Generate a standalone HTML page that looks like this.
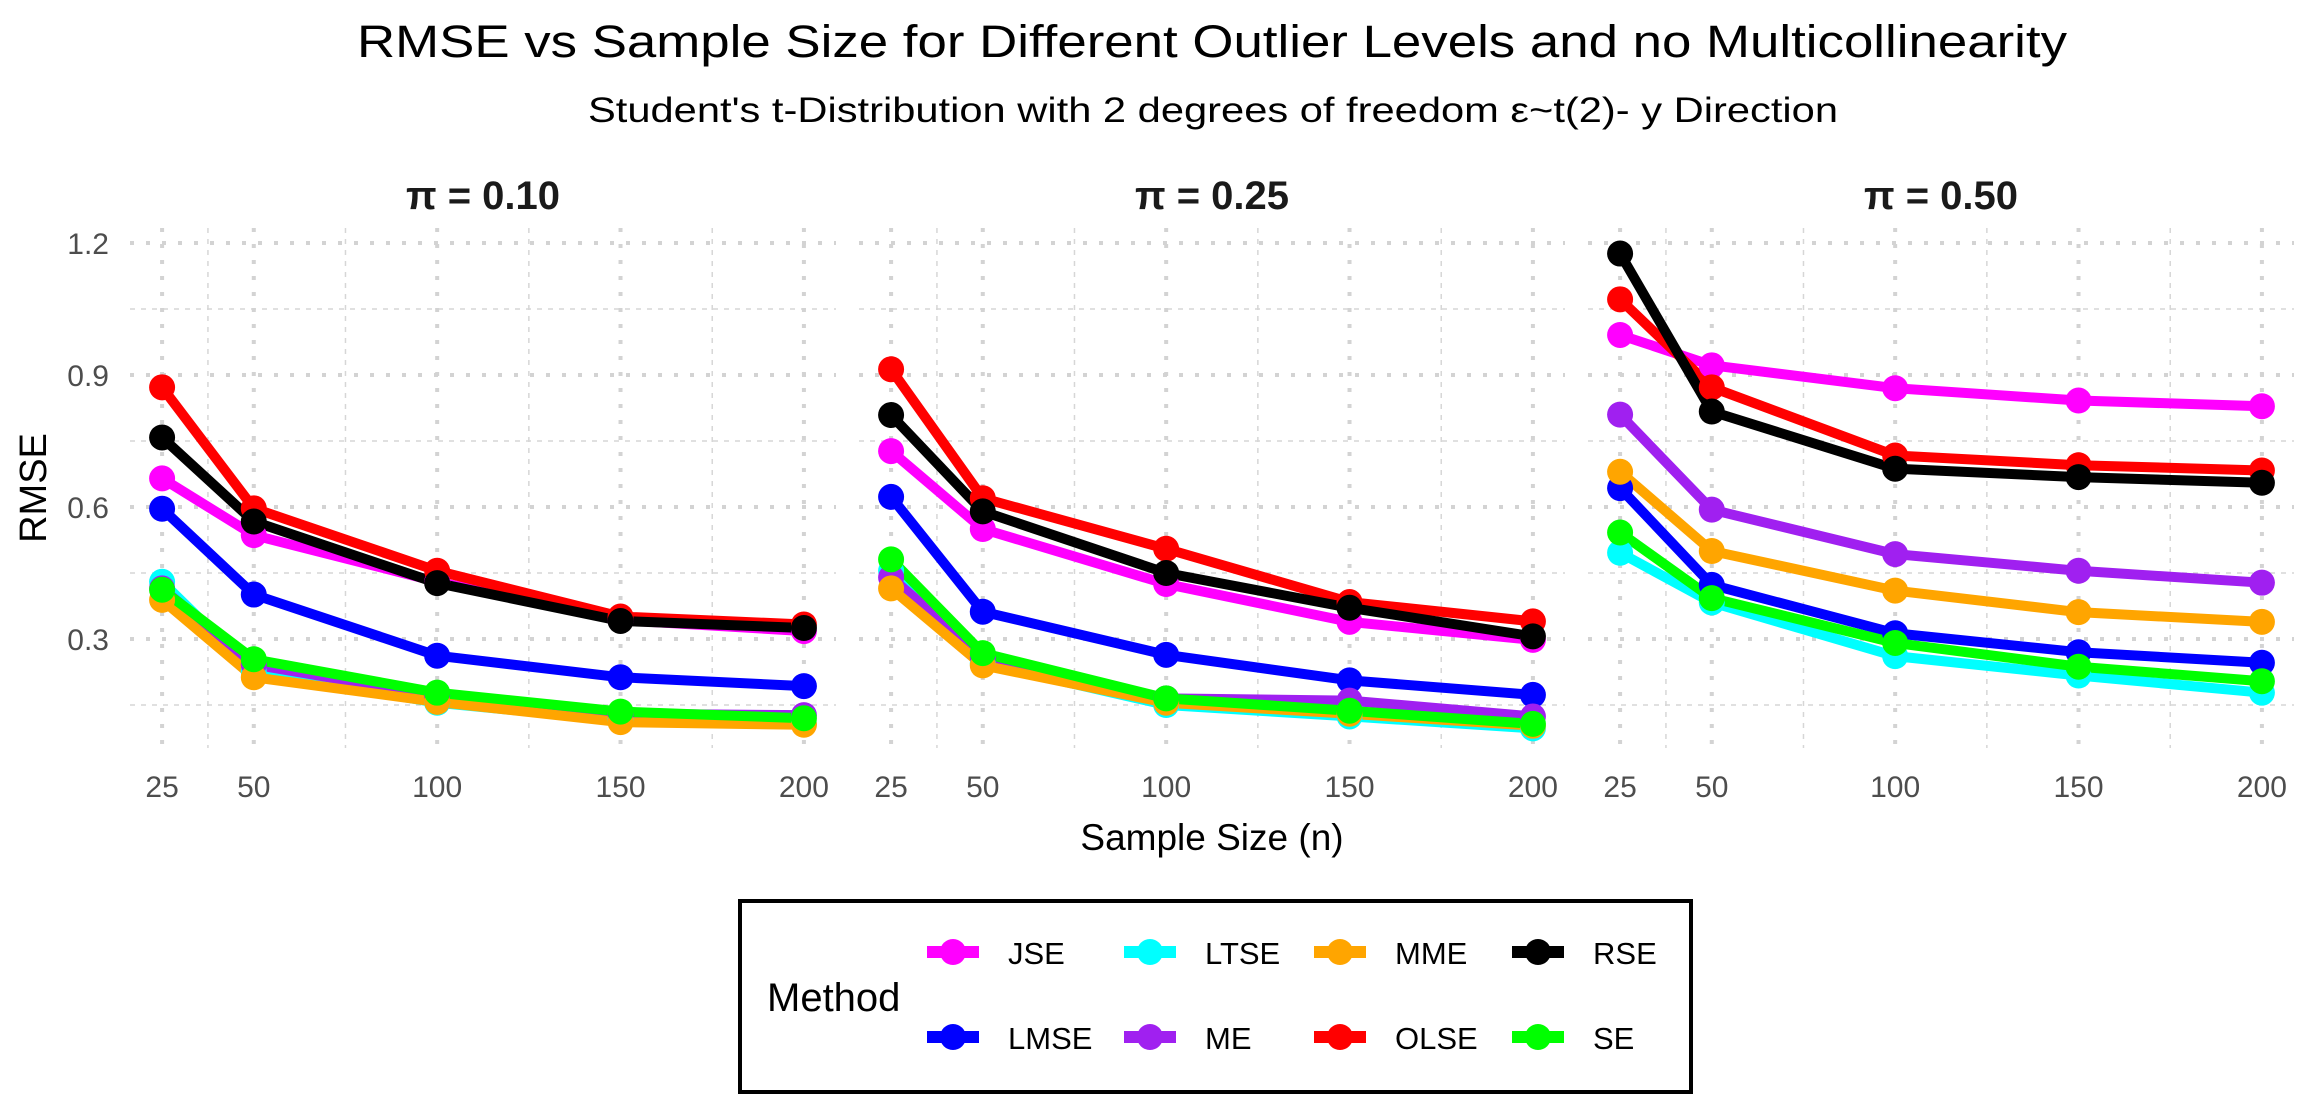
<!DOCTYPE html>
<html><head><meta charset="utf-8"><style>
html,body{margin:0;padding:0;background:#fff;}
svg{display:block;font-family:"Liberation Sans",Arial,sans-serif;}
</style></head>
<body>
<svg id="chart" width="2311" height="1117" viewBox="0 0 2311 1117" xmlns="http://www.w3.org/2000/svg">
<rect width="2311" height="1117" fill="#fff"/>
<text x="1212" y="57" text-anchor="middle" font-size="45" textLength="1710" lengthAdjust="spacingAndGlyphs" fill="#000">RMSE vs Sample Size for Different Outlier Levels and no Multicollinearity</text>
<text x="1213" y="122" text-anchor="middle" font-size="35" textLength="1250" lengthAdjust="spacingAndGlyphs" fill="#000">Student's t-Distribution with 2 degrees of freedom ε~t(2)- y Direction</text>
<text transform="translate(46,488) rotate(-90)" text-anchor="middle" font-size="38" fill="#000">RMSE</text>
<text x="1212" y="850" text-anchor="middle" font-size="37" fill="#000">Sample Size (n)</text>
<g id="panels"></g>
<g id="legend">
  <rect x="740" y="901" width="951" height="191" fill="#fff" stroke="#000" stroke-width="4"/>
  <text x="767" y="1011" font-size="40" fill="#000">Method</text>
</g>
</svg>
<script>
const sampleSizes = [25, 50, 100, 150, 200];
const panelLabels = ["π = 0.10", "π = 0.25", "π = 0.50"];
const methods = ["JSE", "LMSE", "LTSE", "ME", "MME", "OLSE", "RSE", "SE"];
const colors = ["#ff00ff", "#0000ff", "#00ffff", "#a020f0", "#ffa500", "#ff0000", "#000000", "#00ff00"];
const yTicks = [0.3, 0.6, 0.9, 1.2];
const yTickLabels = ["0.3", "0.6", "0.9", "1.2"];
const yMinor = [0.15, 0.45, 0.75, 1.05];
const xMinor = [37.5, 75, 125, 175];
// values per panel, per method (order of methods array)
const p10 = [
  [0.665, 0.536, 0.430, 0.343, 0.318],
  [0.596, 0.401, 0.262, 0.213, 0.193],
  [0.430, 0.226, 0.155, 0.115, 0.107],
  [0.415, 0.242, 0.171, 0.130, 0.127],
  [0.389, 0.213, 0.157, 0.111, 0.105],
  [0.872, 0.597, 0.455, 0.351, 0.333],
  [0.758, 0.567, 0.427, 0.341, 0.325],
  [0.412, 0.254, 0.178, 0.135, 0.120]
];
const p25 = [
  [0.727, 0.550, 0.425, 0.339, 0.298],
  [0.623, 0.362, 0.264, 0.206, 0.173],
  [0.455, 0.245, 0.150, 0.124, 0.097],
  [0.440, 0.258, 0.165, 0.160, 0.124],
  [0.415, 0.240, 0.155, 0.130, 0.103],
  [0.913, 0.620, 0.505, 0.384, 0.340],
  [0.809, 0.590, 0.450, 0.371, 0.306],
  [0.481, 0.268, 0.165, 0.137, 0.107]
];
const p50 = [
  [0.991, 0.922, 0.870, 0.842, 0.829],
  [0.643, 0.423, 0.313, 0.270, 0.246],
  [0.496, 0.383, 0.261, 0.217, 0.178],
  [0.810, 0.594, 0.493, 0.455, 0.428],
  [0.680, 0.500, 0.410, 0.361, 0.339],
  [1.072, 0.872, 0.717, 0.695, 0.683],
  [1.176, 0.817, 0.687, 0.668, 0.655],
  [0.542, 0.393, 0.291, 0.237, 0.204]
];
const panelValues = [p10, p25, p50];

const NS = "http://www.w3.org/2000/svg";
function mk(tag, attrs, parent){const e=document.createElementNS(NS,tag);for(const k in attrs)e.setAttribute(k,attrs[k]);if(parent)parent.appendChild(e);return e;}
const panelLeft0 = 130, panelW = 706, panelStep = 729, panelTop = 228, panelBottom = 748;
const xMin = 16.25, xMax = 208.75;
function xScale(p, v){return panelLeft0 + p*panelStep + (v - xMin)/(xMax - xMin)*panelW;}
function yScale(v){return 243 + (1.2 - v)*440;}

const root = document.getElementById('panels');
panelValues.forEach((vals, p) => {
  const g = mk('g', {}, root);
  
  
  const L = panelLeft0 + p*panelStep, R = L + panelW;
  const strip = mk('text', {x:(L+R)/2, y:209, 'text-anchor':'middle', 'font-size':40, 'font-weight':'bold', fill:'#1a1a1a'}, g);
  strip.textContent = panelLabels[p];
  
  
  yMinor.forEach(v => {
    const l = mk('line', {x1:L, x2:R, y1:yScale(v), y2:yScale(v), stroke:'#d6d6d6', 'stroke-width':1.5, 'stroke-dasharray':'5 6'}, g);
    
    
  });
  xMinor.forEach(v => {
    const l = mk('line', {x1:xScale(p,v), x2:xScale(p,v), y1:panelTop, y2:panelBottom, stroke:'#d6d6d6', 'stroke-width':1.5, 'stroke-dasharray':'5 6'}, g);
    
    
  });
  yTicks.forEach((v, i) => {
    const l = mk('line', {x1:L, x2:R, y1:yScale(v), y2:yScale(v), stroke:'#d3d3d3', 'stroke-width':4, 'stroke-dasharray':'4 12'}, g);
    
    
    if (p === 0) {
      const t = mk('text', {x:109, y:yScale(v)+11, 'text-anchor':'end', 'font-size':30, fill:'#4d4d4d'}, g);
      t.textContent = yTickLabels[i];
      
      
    }
  });
  sampleSizes.forEach(n => {
    const l = mk('line', {x1:xScale(p,n), x2:xScale(p,n), y1:panelTop, y2:panelBottom, stroke:'#d3d3d3', 'stroke-width':4, 'stroke-dasharray':'4 12'}, g);
    
    
    const t = mk('text', {x:xScale(p,n), y:797, 'text-anchor':'middle', 'font-size':30, fill:'#4d4d4d'}, g);
    t.textContent = String(n);
    
    
  });
  vals.forEach((series, m) => {
    const pts = series.map((v, i) => xScale(p, sampleSizes[i]) + ',' + yScale(v)).join(' ');
    const pl = mk('polyline', {points:pts, fill:'none', stroke:colors[m], 'stroke-width':10, 'stroke-linejoin':'round'}, g);
    
    
  });
  vals.forEach((series, m) => {
    series.forEach((v, i) => {
      const c = mk('circle', {cx:xScale(p, sampleSizes[i]), cy:yScale(v), r:13, fill:colors[m]}, g);
      
      
    });
  });
});

const lg = document.getElementById('legend');
const colX = [953, 1150, 1340, 1538];
const rowY = [952, 1037];
methods.forEach((m, i) => {
  const col = Math.floor(i/2), row = i%2;
  const cx = colX[col], cy = rowY[row];
  const g = mk('g', {}, lg);
  
  
  mk('line', {x1:cx-26, x2:cx+26, y1:cy, y2:cy, stroke:colors[i], 'stroke-width':12}, g);
  mk('circle', {cx:cx, cy:cy, r:13, fill:colors[i]}, g);
  const t = mk('text', {x:cx+55, y:cy+12, 'font-size':31, fill:'#000'}, g);
  t.textContent = m;
});
</script>
</body></html>
